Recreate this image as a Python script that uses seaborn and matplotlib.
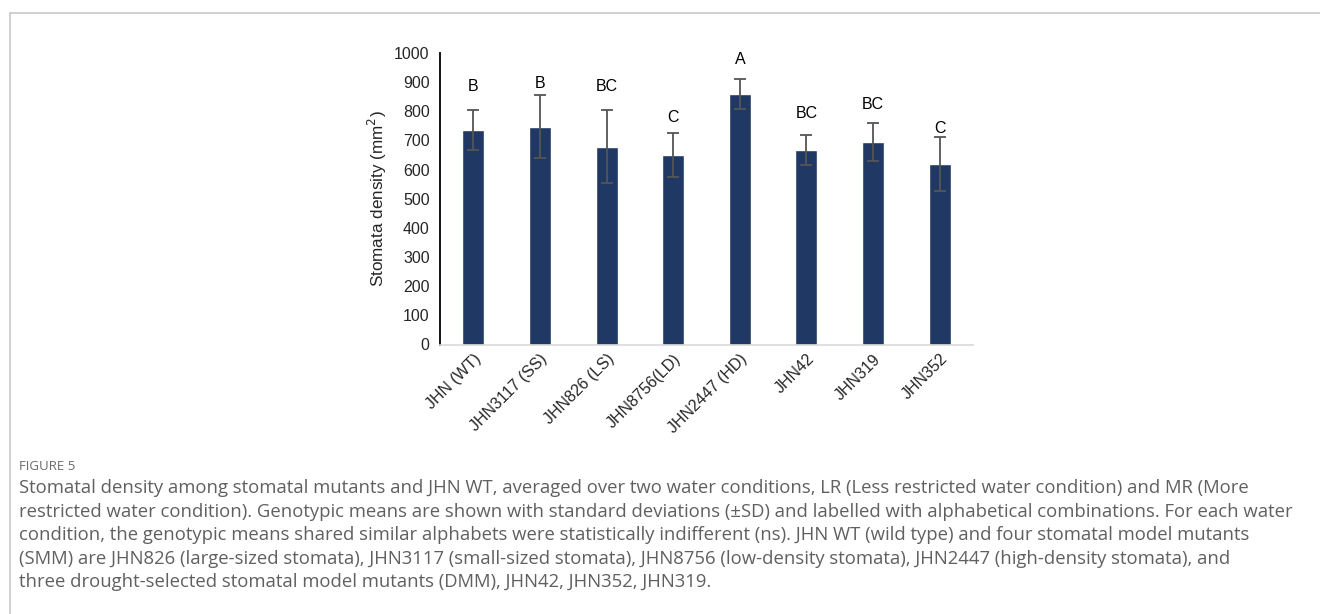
import matplotlib
matplotlib.use("Agg")
import matplotlib.pyplot as plt
import seaborn as sns
import pandas as pd
from matplotlib.lines import Line2D

genotypes = ["JHN (WT)", "JHN3117 (SS)", "JHN826 (LS)", "JHN8756(LD)",
             "JHN2447 (HD)", "JHN42", "JHN319", "JHN352"]
means = [736, 747, 678, 650, 859, 668, 695, 619]
sds = [70, 108, 125, 74, 52, 51, 66, 93]
letters = ["B", "B", "BC", "C", "A", "BC", "BC", "C"]
letter_y = [885, 897, 885, 780, 977, 794, 822, 740]
yticks = list(range(0, 1001, 100))

caption_title = "FIGURE 5"
caption_lines = [
    "Stomatal density among stomatal mutants and JHN WT, averaged over two water conditions, LR (Less restricted water condition) and MR (More",
    "restricted water condition). Genotypic means are shown with standard deviations (\u00b1SD) and labelled with alphabetical combinations. For each water",
    "condition, the genotypic means shared similar alphabets were statistically indifferent (ns). JHN WT (wild type) and four stomatal model mutants",
    "(SMM) are JHN826 (large-sized stomata), JHN3117 (small-sized stomata), JHN8756 (low-density stomata), JHN2447 (high-density stomata), and",
    "three drought-selected stomatal model mutants (DMM), JHN42, JHN352, JHN319.",
]

df = pd.DataFrame({"genotype": genotypes, "mean": means, "sd": sds})

sns.set_theme(style="white")
plt.rcParams["font.family"] = ["Liberation Sans", "DejaVu Sans"]

W, H = 1320, 614
fig = plt.figure(figsize=(W / 100, H / 100), dpi=100)

# card border
fig.add_artist(Line2D([9.5 / W, 1.0], [1 - 12.5 / H, 1 - 12.5 / H], color="#c8c8c8", lw=1.2))
fig.add_artist(Line2D([9.5 / W, 9.5 / W], [0, 1 - 12.5 / H], color="#c8c8c8", lw=1.2))

ax = fig.add_axes([440 / W, 1 - 344.5 / H, 533 / W, 291.5 / H])
sns.barplot(data=df, x="genotype", y="mean", color="#203864", width=0.33,
            saturation=1, ax=ax, errorbar=None, zorder=2)
ax.errorbar(range(len(genotypes)), means, yerr=sds, fmt="none",
            ecolor="#555555", elinewidth=1.3, capsize=4, capthick=1.3, zorder=3)
for i, (lab, ly) in enumerate(zip(letters, letter_y)):
    ax.text(i, ly, lab, ha="center", va="center", fontsize=11.5, color="black")

ax.set_xlim(-0.5, len(genotypes) - 0.5)
ax.set_ylim(0, 1000)
ax.set_yticks(yticks)
ax.set_yticklabels([str(t) for t in yticks], fontsize=11.5)
ax.tick_params(axis="y", direction="inout", length=7, width=1.2, color="black", pad=4)
ax.tick_params(axis="x", length=0, pad=5)
ax.set_xticks(range(len(genotypes)))
ax.set_xticklabels(genotypes, rotation=45, ha="right", rotation_mode="anchor", fontsize=11.5)
ax.set_xlabel("")
ax.set_ylabel("Stomata density (mm$^2$)", fontsize=12.3, labelpad=4)
for s in ["top", "right"]:
    ax.spines[s].set_visible(False)
ax.spines["left"].set_color("black")
ax.spines["left"].set_linewidth(1.3)
ax.spines["bottom"].set_color("#d9d9d9")
ax.spines["bottom"].set_linewidth(1.2)

fig.text(19 / W, 1 - 467 / H, caption_title, fontsize=9.5, color="#6b6b6b",
         family=["Open Sans", "DejaVu Sans"], va="center", ha="left")
for k, line in enumerate(caption_lines):
    fig.text(19 / W, 1 - (488 + 23.6 * k) / H, line, fontsize=13.35, color="#606060",
             family=["Open Sans", "DejaVu Sans"], va="center", ha="left")

fig.savefig("out.png", dpi=100, facecolor="white")
